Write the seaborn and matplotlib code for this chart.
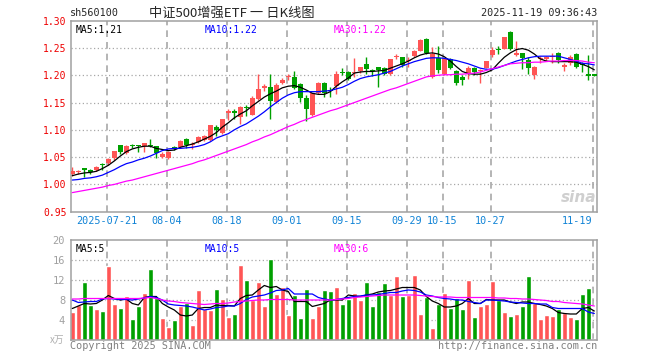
import numpy as np
import pandas as pd
import matplotlib
matplotlib.use("Agg")
import matplotlib.pyplot as plt
import seaborn as sns

# daily candles, one row per trading day (2025-07-11 .. 2025-11-19)
opens = [1.019, 1.022, 1.030, 1.026, 1.027, 1.036, 1.039, 1.048, 1.072, 1.057,
         1.072, 1.072, 1.070, 1.072, 1.070, 1.051, 1.049, 1.068, 1.068, 1.084,
         1.072, 1.077, 1.082, 1.082, 1.105, 1.094, 1.131, 1.134, 1.124, 1.141,
         1.128, 1.156, 1.176, 1.178, 1.151, 1.186, 1.197, 1.197, 1.184, 1.158,
         1.127, 1.168, 1.186, 1.172, 1.180, 1.205, 1.206, 1.205, 1.208, 1.220,
         1.208, 1.216, 1.213, 1.203, 1.234, 1.233, 1.226, 1.236, 1.245, 1.267,
         1.197, 1.231, 1.203, 1.229, 1.208, 1.197, 1.203, 1.214, 1.208, 1.214,
         1.237, 1.247, 1.249, 1.280, 1.237, 1.240, 1.228, 1.200, 1.230, 1.229,
         1.233, 1.240, 1.215, 1.222, 1.239, 1.219, 1.203, 1.203]
highs = [1.031, 1.027, 1.030, 1.028, 1.034, 1.039, 1.049, 1.062, 1.072, 1.072,
         1.074, 1.073, 1.076, 1.084, 1.071, 1.059, 1.062, 1.071, 1.082, 1.085,
         1.078, 1.089, 1.091, 1.109, 1.108, 1.120, 1.138, 1.138, 1.144, 1.145,
         1.162, 1.202, 1.184, 1.202, 1.185, 1.195, 1.202, 1.207, 1.185, 1.164,
         1.168, 1.187, 1.188, 1.179, 1.207, 1.214, 1.208, 1.232, 1.216, 1.234,
         1.212, 1.216, 1.215, 1.230, 1.239, 1.234, 1.234, 1.247, 1.267, 1.268,
         1.251, 1.254, 1.232, 1.231, 1.210, 1.200, 1.217, 1.215, 1.212, 1.227,
         1.252, 1.254, 1.271, 1.281, 1.262, 1.241, 1.234, 1.217, 1.235, 1.236,
         1.240, 1.242, 1.222, 1.237, 1.241, 1.225, 1.237, 1.203]
lows = [1.015, 1.019, 1.014, 1.019, 1.025, 1.027, 1.036, 1.045, 1.056, 1.055,
        1.066, 1.059, 1.060, 1.068, 1.049, 1.049, 1.047, 1.063, 1.067, 1.067,
        1.065, 1.076, 1.080, 1.080, 1.088, 1.092, 1.118, 1.119, 1.111, 1.125,
        1.127, 1.154, 1.171, 1.120, 1.150, 1.184, 1.191, 1.174, 1.151, 1.117,
        1.125, 1.165, 1.160, 1.160, 1.165, 1.200, 1.192, 1.197, 1.204, 1.203,
        1.199, 1.179, 1.201, 1.200, 1.229, 1.216, 1.215, 1.234, 1.244, 1.239,
        1.195, 1.205, 1.201, 1.211, 1.182, 1.183, 1.194, 1.200, 1.185, 1.213,
        1.234, 1.239, 1.248, 1.247, 1.236, 1.212, 1.203, 1.193, 1.222, 1.227,
        1.222, 1.222, 1.208, 1.219, 1.214, 1.206, 1.191, 1.199]
closes = [1.025, 1.025, 1.026, 1.023, 1.032, 1.035, 1.047, 1.062, 1.059, 1.070,
          1.071, 1.071, 1.075, 1.071, 1.057, 1.056, 1.060, 1.067, 1.080, 1.072,
          1.074, 1.087, 1.089, 1.108, 1.099, 1.119, 1.134, 1.130, 1.142, 1.140,
          1.159, 1.175, 1.180, 1.153, 1.182, 1.192, 1.198, 1.176, 1.159, 1.138,
          1.167, 1.185, 1.168, 1.171, 1.203, 1.204, 1.194, 1.206, 1.215, 1.211,
          1.207, 1.210, 1.203, 1.229, 1.235, 1.218, 1.227, 1.244, 1.265, 1.241,
          1.239, 1.210, 1.229, 1.214, 1.185, 1.192, 1.214, 1.206, 1.210, 1.226,
          1.247, 1.246, 1.270, 1.249, 1.241, 1.231, 1.214, 1.215, 1.232, 1.234,
          1.234, 1.228, 1.218, 1.234, 1.215, 1.218, 1.198, 1.199]

# moving averages as drawn on the chart
ma5 = [1.016, 1.019, 1.021, 1.022, 1.024, 1.029, 1.035, 1.043, 1.052, 1.060,
       1.065, 1.068, 1.070, 1.070, 1.066, 1.064, 1.062, 1.063, 1.068, 1.071,
       1.074, 1.078, 1.083, 1.088, 1.095, 1.105, 1.113, 1.122, 1.129, 1.135,
       1.144, 1.152, 1.160, 1.166, 1.171, 1.177, 1.180, 1.181, 1.178, 1.173,
       1.167, 1.165, 1.165, 1.170, 1.180, 1.188, 1.195, 1.204, 1.206, 1.207,
       1.207, 1.208, 1.209, 1.213, 1.217, 1.221, 1.226, 1.232, 1.237, 1.240,
       1.241, 1.239, 1.234, 1.226, 1.216, 1.207, 1.203, 1.202, 1.202, 1.205,
       1.210, 1.222, 1.233, 1.241, 1.247, 1.249, 1.246, 1.239, 1.230, 1.226,
       1.225, 1.225, 1.225, 1.225, 1.224, 1.220, 1.216, 1.210]
ma10 = [1.008, 1.009, 1.011, 1.012, 1.014, 1.017, 1.022, 1.027, 1.033, 1.038,
        1.041, 1.045, 1.048, 1.052, 1.057, 1.062, 1.065, 1.066, 1.066, 1.067,
        1.068, 1.070, 1.073, 1.078, 1.085, 1.089, 1.093, 1.100, 1.106, 1.111,
        1.118, 1.125, 1.133, 1.142, 1.150, 1.158, 1.164, 1.168, 1.170, 1.170,
        1.170, 1.170, 1.171, 1.172, 1.175, 1.178, 1.183, 1.189, 1.194, 1.197,
        1.199, 1.201, 1.204, 1.207, 1.212, 1.217, 1.221, 1.225, 1.228, 1.231,
        1.232, 1.232, 1.231, 1.229, 1.227, 1.224, 1.221, 1.217, 1.213, 1.211,
        1.211, 1.214, 1.218, 1.222, 1.226, 1.229, 1.232, 1.234, 1.235, 1.235,
        1.235, 1.235, 1.232, 1.229, 1.226, 1.222, 1.221, 1.219]
ma30 = [0.985, 0.987, 0.989, 0.991, 0.993, 0.995, 0.998, 1.000, 1.003, 1.006,
        1.008, 1.011, 1.014, 1.017, 1.020, 1.023, 1.026, 1.029, 1.032, 1.035,
        1.038, 1.042, 1.045, 1.049, 1.053, 1.057, 1.061, 1.065, 1.069, 1.073,
        1.078, 1.082, 1.087, 1.091, 1.096, 1.101, 1.106, 1.110, 1.115, 1.119,
        1.123, 1.127, 1.131, 1.135, 1.138, 1.142, 1.146, 1.150, 1.154, 1.158,
        1.162, 1.166, 1.170, 1.174, 1.177, 1.181, 1.185, 1.189, 1.193, 1.197,
        1.199, 1.200, 1.201, 1.201, 1.202, 1.202, 1.203, 1.204, 1.206, 1.209,
        1.212, 1.215, 1.218, 1.221, 1.222, 1.223, 1.223, 1.224, 1.224, 1.225,
        1.226, 1.226, 1.227, 1.227, 1.227, 1.226, 1.224, 1.223]

# volume in 万 lots
volume = [5.6, 7.1, 11.7, 7.0, 6.3, 5.8, 14.8, 7.2, 6.4, 8.8,
          4.3, 6.9, 9.4, 14.2, 8.5, 4.5, 2.7, 4.0, 6.9, 7.5,
          3.0, 10.0, 6.3, 6.0, 10.2, 8.2, 4.7, 5.2, 15.0, 12.0,
          8.1, 11.7, 6.8, 16.2, 9.2, 10.7, 5.0, 9.0, 4.4, 10.2,
          4.4, 6.9, 10.0, 9.9, 10.6, 7.2, 8.3, 9.4, 8.1, 11.7,
          6.8, 9.6, 11.4, 9.0, 12.8, 8.8, 9.1, 13.0, 5.2, 8.7,
          2.5, 7.3, 9.4, 6.5, 8.5, 6.2, 12.0, 4.6, 6.8, 7.3,
          11.8, 8.0, 5.7, 4.8, 5.2, 6.8, 12.8, 7.5, 4.3, 5.0,
          4.8, 6.3, 5.5, 4.6, 4.3, 9.2, 10.5, 0.2]
vol_ma5 = [6.3, 6.8, 7.3, 7.2, 7.3, 8.0, 8.9, 8.3, 8.0, 8.2,
           7.3, 7.0, 8.5, 8.7, 8.7, 7.3, 6.6, 6.0, 5.0, 4.8,
           5.0, 6.3, 6.5, 6.5, 7.0, 6.9, 6.9, 6.8, 8.3, 8.9,
           9.0, 10.0, 10.9, 10.5, 10.7, 10.0, 9.7, 7.7, 7.7, 7.7,
           6.7, 7.0, 7.3, 8.0, 8.0, 8.0, 9.0, 8.8, 8.7, 9.0,
           9.2, 9.6, 9.8, 9.9, 10.2, 10.5, 10.5, 10.5, 10.0, 8.7,
           7.8, 7.3, 6.6, 6.6, 6.8, 7.3, 8.3, 7.3, 7.3, 8.1,
           8.0, 8.0, 8.0, 7.6, 7.3, 7.6, 7.6, 7.3, 7.1, 6.8,
           6.3, 5.5, 5.3, 5.2, 5.2, 6.3, 6.5, 5.8]
vol_ma10 = [8.0, 7.5, 7.6, 7.7, 7.7, 8.2, 8.3, 8.2, 8.1, 8.1,
            8.0, 8.2, 8.4, 8.7, 8.5, 8.0, 7.2, 7.0, 6.9, 6.8,
            6.6, 6.3, 6.0, 6.2, 6.5, 6.6, 6.8, 6.8, 7.3, 8.1,
            8.6, 8.8, 9.0, 9.4, 9.9, 10.0, 10.3, 9.2, 9.2, 9.2,
            9.2, 8.5, 8.2, 8.0, 8.1, 8.3, 8.5, 8.7, 8.8, 9.0,
            9.0, 9.1, 9.3, 9.5, 9.5, 9.8, 10.0, 9.9, 9.6, 9.0,
            8.8, 8.5, 8.3, 8.2, 8.0, 8.0, 7.7, 7.5, 7.3, 8.0,
            8.0, 7.9, 7.8, 7.6, 7.5, 7.4, 7.3, 7.3, 7.2, 7.2,
            6.5, 6.3, 6.3, 6.3, 6.3, 6.3, 5.6, 5.3]
vol_ma30 = [8.2, 8.2, 8.3, 8.3, 8.3, 8.3, 8.3, 8.3, 8.3, 8.3,
            8.3, 8.3, 8.4, 8.5, 8.3, 8.0, 7.8, 7.7, 7.5, 7.4,
            7.3, 7.2, 7.1, 7.2, 7.3, 7.3, 7.4, 7.6, 7.7, 7.8,
            7.9, 8.0, 8.0, 8.1, 8.1, 8.1, 8.1, 8.0, 8.0, 8.0,
            8.0, 8.0, 8.0, 8.0, 8.1, 8.2, 8.3, 8.5, 8.6, 8.7,
            8.8, 8.9, 9.0, 9.0, 9.0, 9.0, 9.0, 9.0, 8.9, 8.8,
            8.7, 8.6, 8.6, 8.6, 8.5, 8.5, 8.5, 8.5, 8.5, 8.5,
            8.5, 8.4, 8.4, 8.3, 8.3, 8.2, 8.2, 8.1, 8.0, 7.9,
            7.7, 7.7, 7.5, 7.4, 7.3, 7.2, 7.0, 6.8]

tick_labels = ["2025-07-21", "08-04", "08-18", "09-01", "09-15",
               "09-29", "10-15", "10-27", "11-19"]
tick_days = [6, 16, 26, 36, 46, 56, 62, 70, 87]   # candle index of each tick
price_ticks = [0.95, 1.00, 1.05, 1.10, 1.15, 1.20, 1.25, 1.30]
vol_ticks = [4, 8, 12, 16, 20]

RED, GREEN = "#ff5555", "#00a000"
GRID = "#a8a8a8"
MONO = "DejaVu Sans Mono"

df = pd.DataFrame({"open": opens, "high": highs, "low": lows, "close": closes,
                   "ma5": ma5, "ma10": ma10, "ma30": ma30, "vol": volume,
                   "vma5": vol_ma5, "vma10": vol_ma10, "vma30": vol_ma30})
df["day"] = np.arange(len(df))
df["dir"] = np.where(df["close"] >= df["open"], "up", "down")

sns.set_style("white")
plt.rcParams["font.family"] = [MONO, "Noto Sans CJK SC"]

fig = plt.figure(figsize=(6.6, 3.6), dpi=100)
ax = fig.add_axes([70.7 / 660, 1 - 211.7 / 360, 526.6 / 660, 191 / 360])
axv = fig.add_axes([70.7 / 660, 1 - 340 / 360, 526.6 / 660, 100 / 360])

xlim = (-0.27, len(df) - 0.5)
grid_x = [d - 0.3 for d in tick_days]

# --- price panel ---
for y in price_ticks[1:-1]:
    ax.axhline(y, color=GRID, lw=0.9, ls=(0, (1, 2)), zorder=0)
for x in grid_x:
    ax.axvline(x, color=GRID, lw=1.2, ls=(0, (4, 3)), zorder=0)

colors = df["dir"].map({"up": RED, "down": GREEN})
ax.vlines(df["day"], df["low"], df["high"], colors=colors, lw=1.0, zorder=2)
body = (df["close"] - df["open"]).abs().clip(lower=0.0018)
bottom = df[["open", "close"]].min(axis=1)
ax.bar(df["day"], body, bottom=bottom, width=0.8, color=colors, lw=0, zorder=3)

sns.lineplot(data=df, x="day", y="ma5", color="black", lw=0.9, ax=ax, zorder=4)
sns.lineplot(data=df, x="day", y="ma10", color="#0000ff", lw=0.9, ax=ax, zorder=4)
sns.lineplot(data=df, x="day", y="ma30", color="#ff00ff", lw=0.9, ax=ax, zorder=4)

ax.set_xlim(*xlim)
ax.set_ylim(0.95, 1.30)
ax.set_yticks(price_ticks)
ax.set_yticklabels([f"{v:.2f}" for v in price_ticks], color="#ee0000", fontsize=7)
ax.set_xticks(grid_x)
ax.set_xticklabels(tick_labels, color="#1083d6", fontsize=7.3)
ax.get_xticklabels()[-1].set_ha("right")
ax.tick_params(length=0, pad=3)
ax.set_xlabel("")
ax.set_ylabel("")

ax.text(0.009, 0.975, f"MA5:{ma5[-1]:.2f}", transform=ax.transAxes, fontsize=7,
        color="black", va="top")
ax.text(0.255, 0.975, f"MA10:{ma10[-1]:.2f}", transform=ax.transAxes, fontsize=7,
        color="#0000ff", va="top")
ax.text(0.5, 0.975, f"MA30:{ma30[-1]:.2f}", transform=ax.transAxes, fontsize=7,
        color="#ff00ff", va="top")
ax.text(0.998, 0.035, "sina", transform=ax.transAxes, fontsize=11, ha="right",
        va="bottom", style="italic", weight="bold", color="#cfcfcf",
        family="DejaVu Sans")

# --- volume panel ---
for y in vol_ticks[:-1]:
    axv.axhline(y, color=GRID, lw=0.9, ls=(0, (1, 2)), zorder=0)
for x in grid_x:
    axv.axvline(x, color=GRID, lw=1.2, ls=(0, (4, 3)), zorder=0)

sns.barplot(data=df, x="day", y="vol", hue="dir", native_scale=True,
            palette={"up": RED, "down": GREEN}, width=0.8, dodge=False,
            saturation=1, legend=False, ax=axv, zorder=2)
sns.lineplot(data=df, x="day", y="vma5", color="black", lw=0.9, ax=axv, zorder=4)
sns.lineplot(data=df, x="day", y="vma10", color="#0000ff", lw=0.9, ax=axv, zorder=4)
sns.lineplot(data=df, x="day", y="vma30", color="#ff00ff", lw=0.9, ax=axv, zorder=4)

axv.set_xlim(*xlim)
axv.set_ylim(0, 20)
axv.set_yticks(vol_ticks)
axv.set_yticklabels([str(v) for v in vol_ticks], color="#a0a0a0", fontsize=7.5)
axv.set_xticks([])
axv.tick_params(length=0, pad=4)
axv.set_xlabel("")
axv.set_ylabel("")
axv.text(-0.012, 0.0, "x万", transform=axv.transAxes, ha="right", va="center",
         fontsize=7, color="#b0b0b0", family=["Noto Sans CJK SC", MONO])

axv.text(0.009, 0.96, f"MA5:{int(vol_ma5[-1])}", transform=axv.transAxes,
         fontsize=7, color="black", va="top")
axv.text(0.255, 0.96, f"MA10:{int(vol_ma10[-1])}", transform=axv.transAxes,
         fontsize=7, color="#0000ff", va="top")
axv.text(0.5, 0.96, f"MA30:{int(vol_ma30[-1])}", transform=axv.transAxes,
         fontsize=7, color="#ff00ff", va="top")

for a in (ax, axv):
    for s in a.spines.values():
        s.set_color("#a0a0a0")
        s.set_linewidth(1.1)

# header and footer
fig.text(70 / 660, 1 - 13 / 360, "sh560100", fontsize=7.3, va="center")
fig.text(232 / 660, 1 - 13 / 360, "中证500增强ETF 一 日K线图", fontsize=9.5,
         ha="center", va="center", family=["Noto Sans CJK SC", MONO])
fig.text(597 / 660, 1 - 13 / 360, "2025-11-19 09:36:43", fontsize=7.3,
         ha="right", va="center")
fig.text(70 / 660, 1 - 346 / 360, "Copyright 2025 SINA.COM", fontsize=7.3,
         color="#808080", va="center")
fig.text(597 / 660, 1 - 346 / 360, "http://finance.sina.com.cn", fontsize=7.3,
         color="#808080", ha="right", va="center")

fig.savefig("out.png", dpi=100)
